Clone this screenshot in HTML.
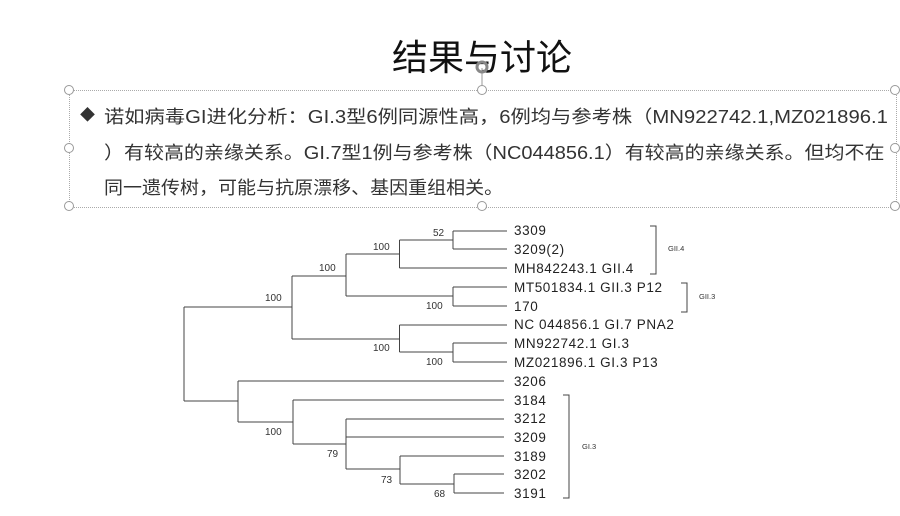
<!DOCTYPE html>
<html><head><meta charset="utf-8"><style>
body{margin:0;width:900px;height:516px;background:#fff;overflow:hidden;position:relative;font-family:"Liberation Sans","Noto Sans CJK SC",sans-serif}
.title{position:absolute;left:0;width:964px;top:29px;text-align:center;font-size:36px;color:#111}
.box{position:absolute;left:69px;top:90px;width:826px;height:116px;border:1px dotted #aaa}
.h{position:absolute;width:8px;height:8px;border:1px solid #999;border-radius:50%;background:#fff}
.t{position:absolute;left:104px;font-size:18px;color:#333;white-space:nowrap;transform-origin:0 0}
</style></head><body>
<div class="title">结果与讨论</div>
<svg style="position:absolute;left:0;top:0" width="900" height="516">
<line x1="482" y1="68" x2="482" y2="90" stroke="#999"/>
<circle cx="482" cy="67" r="5" fill="none" stroke="#888" stroke-width="3"/>
</svg>
<div class="box"></div>
<div class="h" style="left:64px;top:85px"></div><div class="h" style="left:477px;top:85px"></div><div class="h" style="left:890px;top:85px"></div>
<div class="h" style="left:64px;top:143px"></div><div class="h" style="left:890px;top:143px"></div>
<div class="h" style="left:64px;top:201px"></div><div class="h" style="left:477px;top:201px"></div><div class="h" style="left:890px;top:201px"></div>
<div style="position:absolute;left:80px;top:104px;font-size:15px;color:#333">◆</div>
<div class="t" style="top:103px;transform:scaleX(1.126)">诺如病毒GI进化分析：GI.3型6例同源性高，6例均与参考株（MN922742.1,MZ021896.1</div>
<div class="t" style="top:139px;transform:scaleX(1.11)">）有较高的亲缘关系。GI.7型1例与参考株（NC044856.1）有较高的亲缘关系。但均不在</div>
<div class="t" style="top:174px;transform:scaleX(1.056)">同一遗传树，可能与抗原漂移、基因重组相关。</div>
<svg style="position:absolute;left:0;top:0" width="900" height="516" font-family="Liberation Sans, sans-serif">
<g stroke="#444" stroke-width="1" fill="none">
<path d="M453 231V249M453 231H507M453 249H507"/>
<path d="M399.5 240V268M399.5 240H453M399.5 268H507"/>
<path d="M453 287V306M453 287H507M453 306H507"/>
<path d="M346 254V296M346 254H399.5M346 296H453"/>
<path d="M453 343V362M453 343H507M453 362H507"/>
<path d="M399.5 325V352M399.5 325H507M399.5 352H453"/>
<path d="M292 276V339M292 276H346M292 339H399.5"/>
<path d="M184 307V401M184 307H292M184 401H238"/>
<path d="M238 381V422M238 381H504M238 422H293"/>
<path d="M293 400V444M293 400H504M293 444H346"/>
<path d="M346 419V469M346 419H504M346 437H504M346 469H400"/>
<path d="M400 456V484M400 456H504M400 484H454"/>
<path d="M454 474V493M454 474H504M454 493H504"/>
<path d="M650 226H656V274H650"/>
<path d="M681 283H687V312H681"/>
<path d="M563 395H569V498H563"/>
</g>
<g font-size="13.5" fill="#222" letter-spacing="0.6">
<text x="514" y="235">3309</text><text x="514" y="254">3209(2)</text><text x="514" y="273">MH842243.1 GII.4</text>
<text x="514" y="292">MT501834.1 GII.3 P12</text><text x="514" y="311">170</text>
<text x="514" y="329">NC 044856.1 GI.7 PNA2</text><text x="514" y="348">MN922742.1 GI.3</text><text x="514" y="367">MZ021896.1 GI.3 P13</text>
<text x="514" y="386">3206</text><text x="514" y="405">3184</text><text x="514" y="423">3212</text><text x="514" y="442">3209</text><text x="514" y="461">3189</text><text x="514" y="479">3202</text><text x="514" y="498">3191</text>
</g>
<g font-size="10" fill="#333">
<text x="433" y="236">52</text><text x="373" y="250">100</text><text x="319" y="271">100</text><text x="265" y="301">100</text>
<text x="426" y="309">100</text><text x="373" y="351">100</text><text x="426" y="365">100</text>
<text x="265" y="435">100</text><text x="327" y="457">79</text><text x="381" y="483">73</text><text x="434" y="497">68</text>
</g>
<g font-size="7.5" fill="#333">
<text x="668" y="251">GII.4</text><text x="699" y="299">GII.3</text><text x="582" y="449">GI.3</text>
</g>
</svg>
</body></html>
